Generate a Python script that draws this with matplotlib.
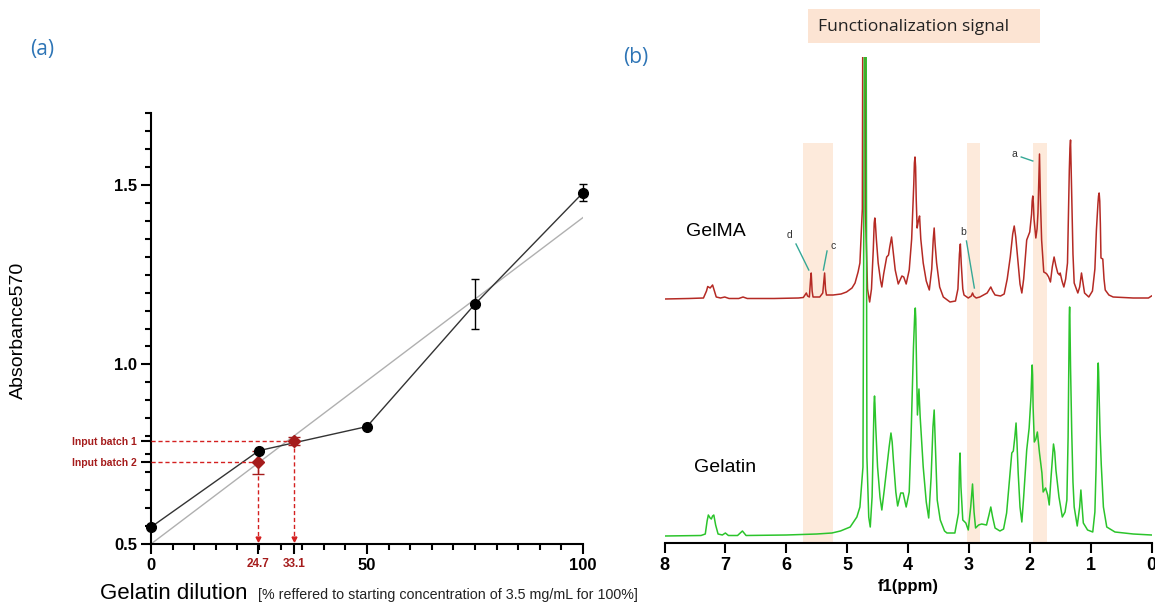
## -- Gelatin calibration + 1H NMR of GelMA / Gelatin -- ##
import matplotlib.pyplot as plt
import numpy as np

# --- Data --- #

# (a) absorbance calibration
dilution = [0, 25, 50, 75, 100]
absorbance = [0.547, 0.760, 0.827, 1.168, 1.478]
absorbance_err = [0.0, 0.0, 0.008, 0.070, 0.024]

fit_x = [0, 100]
fit_y = [0.500, 1.409]

batch_names = ['Input batch 1', 'Input batch 2']
batch_dilution = [33.1, 24.7]
batch_absorbance = [0.787, 0.728]
batch_err = [0.012, 0.032]

# (b) 1H NMR spectra, intensity in a.u. (HDO peak at 4.7 ppm is off scale)
gelma_ppm = [8.00, 7.60, 7.36, 7.31, 7.29, 7.25, 7.21, 7.18, 7.15, 7.08,
             7.01, 6.94, 6.78, 6.71, 6.64, 6.20, 5.80, 5.72, 5.67, 5.65,
             5.62, 5.60, 5.59, 5.575, 5.56, 5.45, 5.40, 5.385, 5.37, 5.355,
             5.34, 5.23, 5.10, 5.01, 4.92, 4.87, 4.82, 4.79, 4.75, 4.73,
             4.715, 4.70, 4.665, 4.63, 4.60, 4.57, 4.555, 4.545, 4.535, 4.52,
             4.49, 4.45,
             4.43, 4.40, 4.35, 4.32, 4.30, 4.27, 4.24, 4.21, 4.16, 4.13,
             4.10, 4.07, 4.03, 3.98, 3.94, 3.905, 3.895, 3.885, 3.875, 3.865,
             3.85, 3.83,
             3.81, 3.79, 3.75, 3.70, 3.65, 3.61, 3.585, 3.57, 3.555, 3.53,
             3.48, 3.42, 3.31, 3.22, 3.18, 3.155, 3.14, 3.125, 3.10, 3.08,
             3.01, 2.96, 2.94, 2.92, 2.88, 2.82, 2.76, 2.70, 2.66, 2.64,
             2.61, 2.57, 2.48, 2.42, 2.37, 2.32, 2.28, 2.255, 2.23, 2.20,
             2.16, 2.13, 2.10, 2.05, 2.00, 1.97, 1.96, 1.95, 1.94, 1.93,
             1.90, 1.88,
             1.865, 1.85, 1.84, 1.825, 1.805, 1.77, 1.74, 1.72, 1.69, 1.66,
             1.63, 1.60, 1.57, 1.54, 1.51, 1.50, 1.47, 1.44, 1.41, 1.38,
             1.36, 1.35, 1.34, 1.33, 1.32, 1.305, 1.29, 1.27, 1.21, 1.18,
             1.15, 1.12, 1.10, 1.03, 0.97, 0.93, 0.905, 0.88, 0.87, 0.86,
             0.85, 0.84,
             0.83, 0.80, 0.78, 0.76, 0.70, 0.63, 0.30, 0.05, 0.00]
gelma_int = [0, 0.5, 1, 8, 12.5, 11, 14, 8, 2, 1,
             2, 0.5, 0.5, 2, 0.5, 0.5, 1, 1.5, 6, 3,
             2, 20, 26, 8, 2, 2, 6, 16, 26, 10,
             4, 4, 5, 7, 11, 16, 27, 36, 90, 600,
             600, 90, 10, -3, 10, 50, 76, 81, 75, 60,
             36, 18,
             12, 25, 42, 44, 52, 62, 45, 29, 15, 19,
             23, 22, 15, 29, 60, 115, 136, 142, 132, 100,
             71, 78,
             83, 60, 36, 18, 9, 30, 60, 71, 55, 36,
             12, 2, -3, -2, 10, 45, 55, 35, 10, 4,
             1, 3, 6, 3, 1, 2, 4, 6, 10, 12,
             8, 4, 3, 5, 20, 42, 65, 73, 62, 42,
             15, 6, 20, 59, 67, 85, 98, 103, 95, 80,
             61, 70,
             86, 120, 145, 100, 59, 27, 26, 25, 22, 17,
             32, 42, 33, 26, 24, 26, 18, 12, 20, 36,
             100, 129, 150, 159, 130, 86, 45, 16, 6, 12,
             26, 14, 6, 2, 8, 30, 69, 95, 103, 106,
             98, 75,
             41, 40, 20, 9, 4, 2, 1, 1, 3]

gelatin_ppm = [8.00, 7.40, 7.33, 7.30, 7.28, 7.25, 7.23, 7.21, 7.19, 7.16,
               7.12, 7.05, 7.00, 6.95, 6.80, 6.72, 6.66, 6.00, 5.50, 5.25,
               5.11, 4.95, 4.84, 4.79, 4.74, 4.71, 4.69, 4.675, 4.645, 4.62,
               4.59, 4.565, 4.557, 4.55, 4.543, 4.53, 4.50, 4.46, 4.43, 4.39,
               4.34, 4.31,
               4.28, 4.26, 4.24, 4.20, 4.17, 4.12, 4.08, 4.03, 3.98, 3.95,
               3.91, 3.89, 3.88, 3.872, 3.865, 3.845, 3.82, 3.80, 3.75, 3.70,
               3.66, 3.62,
               3.59, 3.57, 3.55, 3.52, 3.47, 3.40, 3.36, 3.23, 3.17, 3.155,
               3.145, 3.13, 3.10, 3.05, 3.01, 2.97, 2.94, 2.915, 2.89, 2.84,
               2.79, 2.71, 2.67, 2.64, 2.61, 2.57, 2.49, 2.43, 2.38, 2.33,
               2.295, 2.27, 2.245, 2.225, 2.21, 2.19, 2.16, 2.13, 2.10, 2.05,
               2.01, 1.98, 1.966, 1.96, 1.953, 1.945, 1.925, 1.90, 1.875, 1.84,
               1.80, 1.78,
               1.76, 1.74, 1.705, 1.68, 1.65, 1.61, 1.59, 1.57, 1.52, 1.465,
               1.42, 1.39, 1.37, 1.355, 1.35, 1.345, 1.34, 1.33, 1.31, 1.29,
               1.27, 1.22,
               1.18, 1.16, 1.14, 1.12, 1.05, 0.965, 0.93, 0.91, 0.89, 0.881,
               0.875, 0.869,
               0.86, 0.845, 0.825, 0.79, 0.735, 0.60, 0.30, 0.02, 0.00]
gelatin_int = [1, 1.5, 3, 16, 22, 19, 18, 21, 22, 12,
               3, 2, 4, 1.5, 1.5, 6, 1.5, 2, 3, 4,
               6, 10, 20, 30, 70, 600, 600, 80, 20, 10,
               40, 110, 134, 141, 133, 110, 70, 40, 27, 47,
               74, 90,
               104, 95, 77, 45, 31, 44, 44, 30, 45, 100,
               190, 222, 229, 218, 190, 122, 148, 120, 70, 35,
               19, 60,
               110, 127, 90, 37, 17, 6, 4, 4, 24, 70,
               84, 50, 17, 14, 7, 30, 53, 25, 9, 12,
               13, 12, 22, 30, 20, 9, 6, 8, 24, 60,
               84, 86, 100, 114, 95, 64, 30, 15, 40, 87,
               109, 140, 165, 172, 162, 130, 95, 98, 105, 84,
               64, 45,
               47, 49, 42, 32, 60, 93, 85, 67, 40, 20,
               25, 37, 100, 190, 222, 230, 216, 170, 104, 55,
               30, 11,
               30, 47, 30, 14, 7, 5, 25, 70, 140, 168,
               174, 165,
               140, 104, 72, 30, 10, 5, 3, 2, 2]

gelma_offset = 238
signal_bands = [(5.72, 5.23), (3.03, 2.81), (1.94, 1.72)]

assert len(gelma_ppm) == len(gelma_int)
assert len(gelatin_ppm) == len(gelatin_int)

# --- Figure --- #
plt.rcParams['font.family'] = ['Liberation Sans', 'DejaVu Sans']

W, H = 1155, 604
fig = plt.figure(figsize=(W / 100, H / 100), dpi=100)


def px_axes(x0, y0, x1, y1):
    # pixel box (top-left origin) -> figure fraction
    return fig.add_axes([x0 / W, 1 - y1 / H, (x1 - x0) / W, (y1 - y0) / H])


red = '#D42020'
dark_red = '#A51C1C'

# ---------------- (a) ----------------
ax = px_axes(151, 113, 583, 544)
ax.set_xlim(0, 100)
ax.set_ylim(0.5, 1.7)

ax.plot(fit_x, fit_y, color='#B0B0B0', lw=1, zorder=1)
ax.plot(dilution, absorbance, color='#333333', lw=1, zorder=2)

for bx, by, be in zip(batch_dilution, batch_absorbance, batch_err):
    ax.plot([0, bx], [by, by], ls=(0, (3, 2)), color=red, lw=1, zorder=3)
    ax.plot([bx, bx], [by, 0.515], ls=(0, (3, 2)), color=red, lw=1, zorder=3)
    ax.plot(bx, 0.513, marker='v', ms=3.5, color=red, zorder=3)
    ax.errorbar(bx, by, yerr=be, fmt='D', color=dark_red, ms=6, capsize=4,
                elinewidth=1, capthick=1, zorder=4)

ax.errorbar(dilution, absorbance, yerr=absorbance_err, fmt='o', color='black',
            ms=7, capsize=3, elinewidth=1, capthick=1, zorder=6, clip_on=False)

for side in ('top', 'right'):
    ax.spines[side].set_visible(False)
for side in ('left', 'bottom'):
    ax.spines[side].set_linewidth(1.5)

yt = [0.5, batch_absorbance[1], batch_absorbance[0], 1.0, 1.5]
ax.set_yticks(yt, ['0.5', batch_names[1], batch_names[0], '1.0', '1.5'])
ax.set_yticks(np.arange(0.5, 1.701, 0.05), minor=True)
xt = [0, batch_dilution[1], batch_dilution[0], 50, 100]
ax.set_xticks(xt, ['0', '24.7', '33.1', '50', '100'])
ax.set_xticks(np.arange(0, 101, 5), minor=True)
ax.tick_params(which='major', length=7, width=1.5, labelsize=12, pad=3)
ax.tick_params(which='minor', length=4, width=1.5)

for lab in ax.get_yticklabels():
    lab.set_fontweight('bold')
    if lab.get_text().startswith('Input'):
        lab.set_fontsize(7.5)
        lab.set_color(dark_red)
for lab in ax.get_xticklabels():
    lab.set_fontweight('bold')
    if lab.get_text() in ('24.7', '33.1'):
        lab.set_fontsize(8.5)
        lab.set_color(dark_red)

fig.text(18 / W, 1 - 330 / H, 'Absorbance570', rotation=90, ha='center',
         va='center', fontsize=14)
fig.text(100 / W, 1 - 599 / H, 'Gelatin dilution', fontsize=16, va='baseline')
fig.text(258 / W, 1 - 599 / H,
         '[% reffered to starting concentration of 3.5 mg/mL for 100%]',
         fontsize=10.3, va='baseline', color='#222222')

fig.text(42 / W, 1 - 50 / H, '(a)', fontsize=15, color='#2E75B6',
         ha='center', va='center', family=['Open Sans', 'DejaVu Sans'])
fig.text(636 / W, 1 - 58 / H, '(b)', fontsize=15, color='#2E75B6',
         ha='center', va='center', family=['Open Sans', 'DejaVu Sans'])

# ---------------- (b) ----------------
ax2 = px_axes(664.5, 57, 1151.5, 543)
ax2.set_xlim(8, 0)
ax2.set_ylim(-6, 480)

for lo, hi in signal_bands:
    ax2.axvspan(lo, hi, ymin=0, ymax=0.823, color='#FDEADB', lw=0, zorder=0)

ax2.plot(gelma_ppm, np.array(gelma_int) + gelma_offset, color='#B52A24',
         lw=1.1, zorder=2, solid_joinstyle='round')
ax2.plot(gelatin_ppm, gelatin_int, color='#2BC42B', lw=1.1, zorder=3,
         solid_joinstyle='round')

ax2.text(7.65, 305, 'GelMA', fontsize=14, va='center')
ax2.text(7.52, 70, 'Gelatin', fontsize=14, va='center')

teal = '#35A896'
ann = [('d', (5.94, 302), (5.84, 293), (5.63, 267)),
       ('c', (5.23, 291), (5.33, 286), (5.39, 267)),
       ('b', (3.10, 305), (3.04, 296), (2.91, 249)),
       ('a', (2.26, 383), (2.14, 380), (1.95, 376))]
for txt, tpos, p0, p1 in ann:
    ax2.text(tpos[0], tpos[1], txt, fontsize=7.5, ha='center', va='center',
             color='#333333')
    ax2.plot([p0[0], p1[0]], [p0[1], p1[1]], color=teal, lw=1, zorder=4)

for side in ('top', 'right', 'left'):
    ax2.spines[side].set_visible(False)
ax2.spines['bottom'].set_linewidth(1.5)
ax2.set_yticks([])
ax2.set_xticks(range(0, 9))
ax2.tick_params(axis='x', length=7, width=1.5, labelsize=13, pad=3)
for lab in ax2.get_xticklabels():
    lab.set_fontweight('bold')
ax2.set_xlabel('f1(ppm)', fontsize=12, fontweight='bold', labelpad=4)

# functionalization signal box
fig.patches.append(plt.Rectangle((808 / W, 1 - 43 / H), 232 / W, 34 / H,
                                 transform=fig.transFigure, color='#FCE4D3',
                                 lw=0, zorder=0))
fig.text(818 / W, 1 - 27 / H, 'Functionalization signal', fontsize=12.6,
         va='center', family=['Open Sans', 'DejaVu Sans'], color='#222222')

fig.savefig('out.png', dpi=100)
